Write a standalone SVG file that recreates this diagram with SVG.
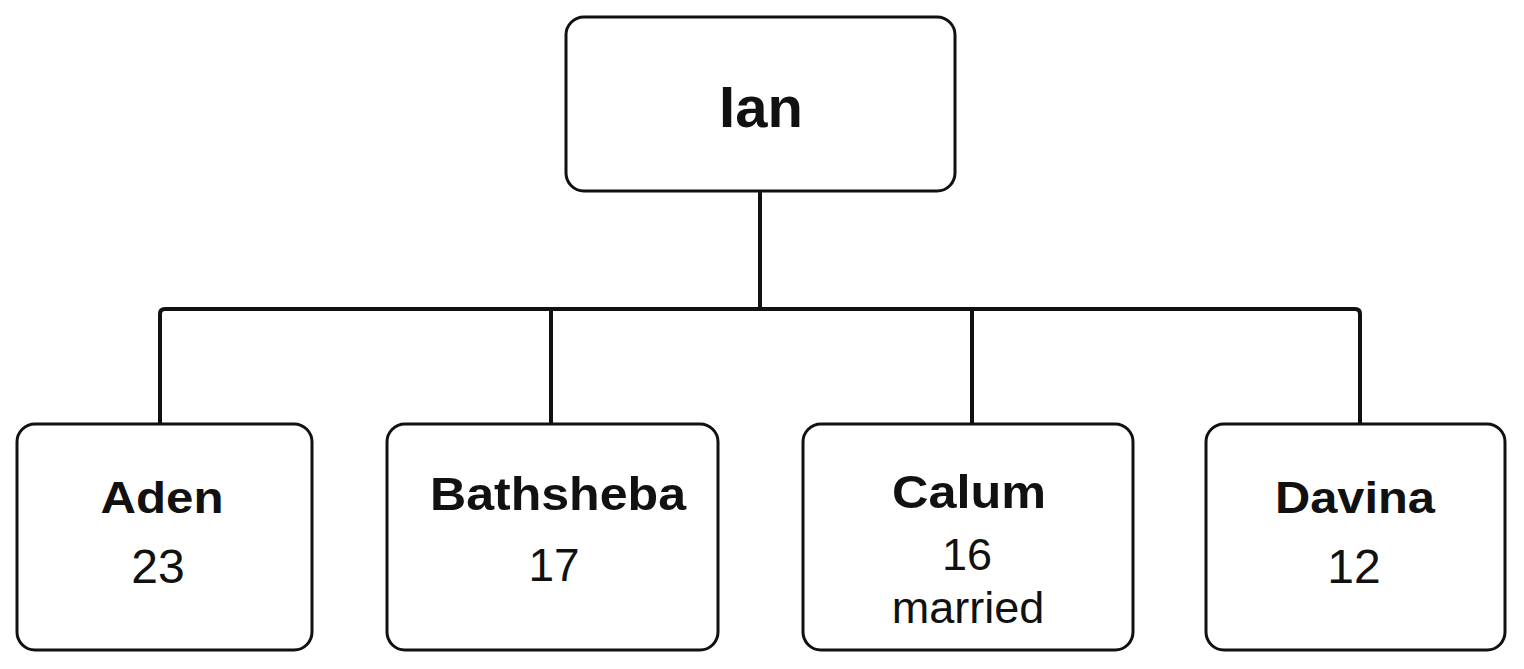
<svg xmlns="http://www.w3.org/2000/svg" width="1524" height="669" viewBox="0 0 1524 669">
<style>
.box{fill:#fff;stroke:#111;stroke-width:3}
.conn{fill:none;stroke:#111;stroke-width:4;stroke-linejoin:round}
.name{font-family:"Liberation Sans",Arial,sans-serif;font-weight:bold;fill:#111;text-anchor:middle}
.val{font-family:"Liberation Sans",Arial,sans-serif;fill:#111;text-anchor:middle}
</style>
<rect width="1524" height="669" fill="#fff"/>
<g id="connectors">
<path class="conn" d="M760,192 V309"/>
<path class="conn" d="M160,423 V314 Q160,309 165,309 H1355 Q1360,309 1360,314 V423"/>
<path class="conn" d="M551,309 V423"/>
<path class="conn" d="M972,309 V423"/>
</g>
<g id="ian">
<rect class="box" x="566" y="17" width="389" height="174" rx="18"/>
<text class="name" x="761" y="127" font-size="58">Ian</text>
</g>
<g id="aden">
<rect class="box" x="17" y="424" width="295" height="226" rx="18"/>
<text class="name" x="162" y="513" font-size="45" textLength="123" lengthAdjust="spacingAndGlyphs">Aden</text>
<text class="val" x="158" y="583" font-size="48">23</text>
</g>
<g id="bathsheba">
<rect class="box" x="387" y="424" width="331" height="226" rx="18"/>
<text class="name" x="558" y="510" font-size="46" textLength="256" lengthAdjust="spacingAndGlyphs">Bathsheba</text>
<text class="val" x="554" y="581" font-size="46">17</text>
</g>
<g id="calum">
<rect class="box" x="803" y="424" width="330" height="226" rx="18"/>
<text class="name" x="969" y="508" font-size="46" textLength="154" lengthAdjust="spacingAndGlyphs">Calum</text>
<text class="val" x="967" y="570" font-size="45">16</text>
<text class="val" x="968" y="623" font-size="45">married</text>
</g>
<g id="davina">
<rect class="box" x="1206" y="424" width="299" height="226" rx="18"/>
<text class="name" x="1355" y="513" font-size="45" textLength="160" lengthAdjust="spacingAndGlyphs">Davina</text>
<text class="val" x="1354" y="583" font-size="48">12</text>
</g>
</svg>
